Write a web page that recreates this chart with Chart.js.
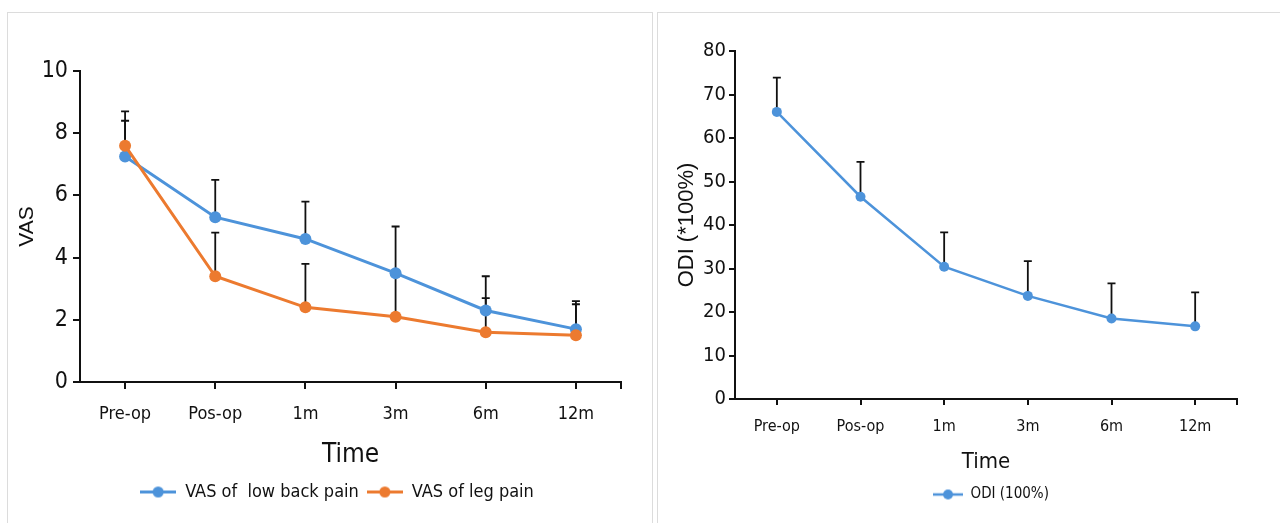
<!DOCTYPE html>
<html>
<head>
<meta charset="utf-8">
<script src="https://cdn.jsdelivr.net/npm/chart.js@4.4.0/dist/chart.umd.min.js"></script>
<style>
body{margin:0;background:#fff;width:1280px;height:523px;overflow:hidden;position:relative;}
.panel{position:absolute;border:1px solid #dcdcdc;border-bottom:none;background:#fff;box-sizing:border-box;}
canvas{position:absolute;}
</style>
</head>
<body>
<div class="panel" style="left:7px;top:12px;width:646px;height:520px"></div>
<div class="panel" style="left:657px;top:12px;width:630px;height:520px"></div>
<canvas id="vas" width="645" height="511" style="left:7px;top:12px"></canvas>
<canvas id="odi" width="623" height="511" style="left:657px;top:12px"></canvas>
<script>
// data (mean and upper SD)
var timeLabels = ['Pre-op', 'Pos-op', '1m', '3m', '6m', '12m'];
var vasBack   = [7.25, 5.3, 4.6, 3.5, 2.3, 1.7];
var vasBackSD = [1.15, 1.2, 1.2, 1.5, 1.1, 0.9];
var vasLeg    = [7.6, 3.4, 2.4, 2.1, 1.6, 1.5];
var vasLegSD  = [1.1, 1.4, 1.4, 1.4, 1.1, 1.0];
var odiVals   = [66, 46.5, 30.4, 23.7, 18.5, 16.7];
var odiSD     = [7.9, 8.0, 7.9, 8.0, 8.1, 7.8];

var BLUE = '#4d93da', ORANGE = '#ec7a2f';
var NARROW = "'Liberation Sans Narrow', 'DejaVu Sans Condensed', 'Arial Narrow', sans-serif";
var REGULAR = "'Liberation Sans', Arial, sans-serif";

Chart.defaults.font.family = NARROW;
Chart.defaults.color = '#111';

// line + dot sample for the legend
function legendMarker(color, w, r, lw){
    var c = document.createElement('canvas');
    c.width = w; c.height = 2*r + 2;
    var ctx = c.getContext('2d');
    ctx.strokeStyle = color; ctx.lineWidth = lw;
    ctx.beginPath(); ctx.moveTo(0, r+1); ctx.lineTo(w, r+1); ctx.stroke();
    ctx.fillStyle = color;
    ctx.beginPath(); ctx.arc(w/2, r+1, r, 0, Math.PI*2); ctx.fill();
    return c;
}

// upper error bars, right end tick on x axis, legend shift
var errorBars = {
    id: 'errorBars',
    afterLayout: function(chart){
        var dx = chart.options.legendShift || 0;
        chart.legend.left += dx; chart.legend.right += dx;
    },
    beforeDatasetsDraw: function(chart){
        var ctx = chart.ctx, ys = chart.scales.y;
        ctx.save();
        ctx.strokeStyle = '#111';
        ctx.lineWidth = 1.8;
        chart.data.datasets.forEach(function(ds, di){
            var meta = chart.getDatasetMeta(di);
            meta.data.forEach(function(pt, i){
                var top = ys.getPixelForValue(ds.data[i] + ds.sd[i]);
                ctx.beginPath();
                ctx.moveTo(pt.x, pt.y); ctx.lineTo(pt.x, top);
                ctx.moveTo(pt.x - 4, top); ctx.lineTo(pt.x + 4, top);
                ctx.stroke();
            });
        });
        ctx.restore();
    },
    afterDraw: function(chart){
        var ctx = chart.ctx, a = chart.chartArea;
        ctx.save();
        ctx.strokeStyle = '#111'; ctx.lineWidth = 2;
        ctx.beginPath(); ctx.moveTo(a.right, a.bottom); ctx.lineTo(a.right, a.bottom + chart.options.tickLen); ctx.stroke();
        ctx.restore();
    }
};

function makeChart(id, datasets, o){
    return new Chart(document.getElementById(id), {
        type: 'line',
        data: { labels: timeLabels, datasets: datasets },
        plugins: [errorBars],
        options: {
            responsive: false,
            animation: false,
            tickLen: o.tickLen,
            legendShift: o.legendShift,
            layout: { padding: o.padding },
            plugins: {
                tooltip: { enabled: false },
                legend: {
                    position: 'bottom',
                    labels: {
                        usePointStyle: true,
                        pointStyleWidth: o.markW,
                        padding: o.legendPad,
                        color: '#111',
                        font: { size: o.legendSize, family: NARROW },
                        generateLabels: function(chart){
                            var items = Chart.defaults.plugins.legend.labels.generateLabels(chart);
                            items.forEach(function(it){ it.pointStyle = chart.data.datasets[it.datasetIndex].marker; });
                            return items;
                        },
                        sort: function(a, b){ return a.datasetIndex - b.datasetIndex; }
                    }
                }
            },
            scales: {
                x: {
                    offset: true,
                    afterFit: function(s){ s.height = o.xHeight; },
                    grid: { offset: false, drawOnChartArea: false, drawTicks: true, tickLength: o.tickLen, color: '#111', lineWidth: 2 },
                    border: { display: true, color: '#111', width: 2 },
                    ticks: { padding: o.xPad, color: '#111', font: { size: o.xSize }, maxRotation: 0 },
                    title: { display: true, text: 'Time', color: '#111', font: { size: o.timeSize, family: NARROW }, padding: { top: 0, bottom: 4 } }
                },
                y: {
                    min: 0, max: o.yMax,
                    afterFit: function(s){ s.width = o.yWidth; },
                    grid: { drawOnChartArea: false, drawTicks: true, tickLength: o.tickLen, color: '#111', lineWidth: 2 },
                    border: { display: true, color: '#111', width: 2 },
                    ticks: { stepSize: o.yStep, padding: o.yPad, color: '#111', font: { size: o.ySize } },
                    title: { display: true, text: o.yTitle, color: '#111', font: { size: o.yTitleSize, family: REGULAR }, padding: { top: o.yTitlePad, bottom: 0 } }
                }
            }
        }
    });
}

makeChart('vas', [
    { label: 'VAS of  low back pain', data: vasBack, sd: vasBackSD, order: 1,
      borderColor: BLUE, backgroundColor: BLUE, borderWidth: 3, pointRadius: 6, pointBorderWidth: 0,
      pointStyle: 'circle', marker: legendMarker(BLUE, 36, 5.5, 3) },
    { label: 'VAS of leg pain', data: vasLeg, sd: vasLegSD, order: 0,
      borderColor: ORANGE, backgroundColor: ORANGE, borderWidth: 3, pointRadius: 6, pointBorderWidth: 0,
      pointStyle: 'circle', marker: legendMarker(ORANGE, 36, 5.5, 3) }
], {
    padding: { top: 59, right: 31, left: 0, bottom: 12 },
    tickLen: 7, xHeight: 93, yWidth: 73, yMax: 10, yStep: 2,
    xPad: 15, xSize: 18, yPad: 5, ySize: 23, timeSize: 26,
    yTitle: 'VAS', yTitleSize: 21, yTitlePad: 8,
    markW: 36, legendPad: 8, legendSize: 18, legendShift: 23
});

makeChart('odi', [
    { label: 'ODI (100%)', data: odiVals, sd: odiSD,
      borderColor: BLUE, backgroundColor: BLUE, borderWidth: 2.5, pointRadius: 5, pointBorderWidth: 0,
      pointStyle: 'circle', marker: legendMarker(BLUE, 30, 5, 2.5) }
], {
    padding: { top: 39, right: 43, left: 0, bottom: 11 },
    tickLen: 6, xHeight: 80, yWidth: 78, yMax: 80, yStep: 10,
    xPad: 12, xSize: 16, yPad: 3, ySize: 20, timeSize: 22,
    yTitle: 'ODI (*100%)', yTitleSize: 22, yTitlePad: 17,
    markW: 30, legendPad: 8, legendSize: 15, legendShift: 44
});
</script>
</body>
</html>
